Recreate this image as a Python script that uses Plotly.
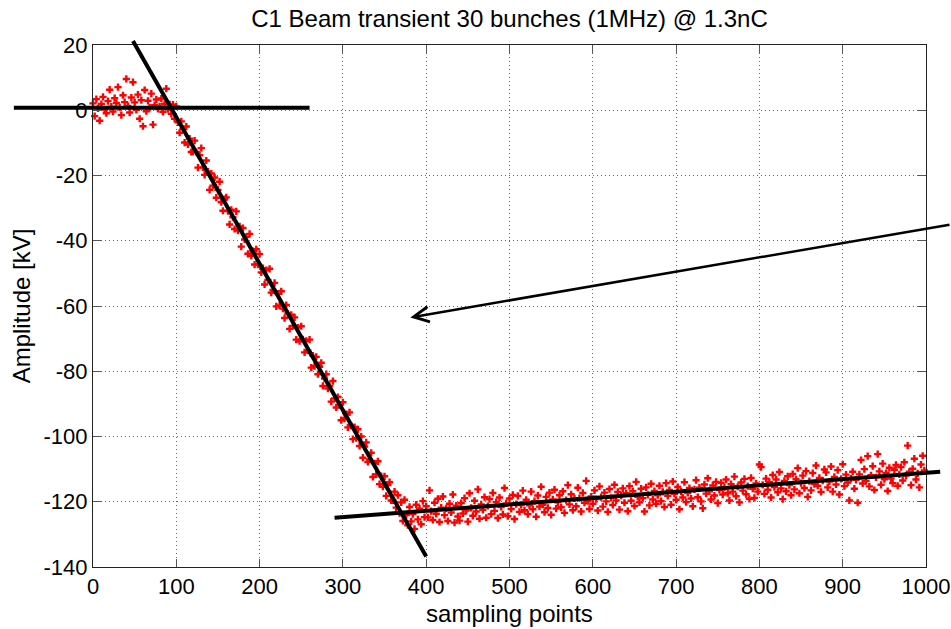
import plotly.graph_objects as go

# ---------------- data ----------------
sample_step = 2
amp_rows = [
    [2.1, -1.8, 3.4, 0.6, -3.2, 1.9, 4.1, 0.2, -0.9, 2.8, 6.3, 1.1, -0.4, 3.7, 2.2, 7.1, 0.9, -1.5, 4.6, 2.5],
    [9.6, 1.3, -0.7, 3.9, 8.6, 2.4, 0.1, 4.8, -2.6, 3.1, -4.9, 6.2, -0.3, 2.9, 0.8, 5.1, -4.4, 1.6, 3.3, 0.4],
    [1.2, 3.6, -0.5, 2.0, 6.6, 0.3, 1.8, -1.1, 1.7, -2.6, 1.2, -3.7, -6.9, -3.4, -5.7, -9.9, -5.0, -10.5, -8.7, -12.8],
    [-12.7, -9.3, -12.8, -17.6, -13.8, -11.6, -17.5, -19.8, -15.4, -18.8, -24.4, -19.4, -23.1, -20.6, -26.8, -24.4, -21.9, -28.2, -30.8, -27.2],
    [-26.7, -30.9, -35.0, -30.5, -32.8, -36.4, -31.0, -36.9, -35.6, -41.8, -36.1, -39.6, -38.8, -44.0, -37.9, -44.6, -43.2, -47.3, -42.6, -47.3],
    [-44.1, -49.7, -48.4, -53.4, -49.0, -52.0, -48.6, -55.9, -55.1, -52.9, -60.1, -56.2, -59.8, -55.5, -60.8, -63.7, -59.7, -62.3, -67.0, -62.7],
    [-66.1, -63.5, -70.3, -66.6, -70.8, -66.2, -70.2, -74.2, -70.7, -73.7, -70.3, -78.9, -75.2, -78.4, -75.6, -80.9, -78.6, -77.4, -84.5, -82.2],
    [-80.9, -85.3, -84.5, -89.3, -83.0, -88.3, -91.1, -87.9, -90.3, -95.0, -89.5, -94.5, -93.1, -97.2, -92.6, -96.7, -100.8, -97.1, -100.5, -97.8],
    [-102.9, -100.0, -106.5, -103.1, -101.8, -107.8, -107.1, -105.0, -112.4, -108.2, -111.6, -107.6, -114.6, -112.1, -115.4, -112.2, -118.2, -114.9, -114.0, -119.6],
    [-119.6, -116.9, -121.8, -118.0, -123.5, -120.2, -125.9, -119.4, -124.1, -127.2, -121.6, -126.0, -123.8, -128.3, -120.9, -125.4, -122.1, -126.9, -119.8, -124.7],
    [-121.4, -124.8, -116.5, -122.9, -125.6, -120.3, -123.7, -119.1, -126.2, -121.8, -118.4, -124.1, -122.0, -125.9, -120.6, -123.3, -117.8, -126.4, -121.2, -124.5],
    [-125.8, -120.4, -123.6, -118.9, -122.7, -126.1, -117.4, -121.9, -124.3, -119.7, -123.0, -116.2, -125.2, -120.8, -122.5, -118.6, -124.9, -121.3, -119.2, -123.8],
    [-117.3, -122.8, -120.1, -125.0, -118.7, -121.6, -123.9, -115.8, -120.5, -124.4, -119.0, -122.2, -117.9, -125.3, -120.7, -118.2, -123.1, -121.0, -116.6, -122.6],
    [-119.4, -123.8, -121.1, -116.9, -122.3, -119.8, -124.6, -118.1, -121.5, -115.4, -120.9, -123.2, -118.5, -121.9, -117.2, -124.0, -119.3, -116.3, -122.1, -120.2],
    [-118.0, -121.7, -116.8, -123.4, -119.5, -114.9, -120.8, -117.7, -122.6, -119.0, -121.4, -115.7, -118.9, -123.0, -117.3, -120.3, -113.6, -119.8, -122.2, -118.4],
    [-120.6, -116.5, -119.2, -122.7, -115.3, -118.6, -121.5, -117.2, -119.9, -123.1, -116.1, -118.8, -121.0, -114.8, -119.6, -117.0, -122.4, -118.1, -115.9, -120.3],
    [-117.4, -122.9, -115.2, -119.7, -116.8, -121.3, -113.9, -118.5, -120.2, -116.0, -118.9, -123.0, -115.6, -117.9, -121.1, -114.5, -119.3, -116.7, -120.6, -118.0],
    [-115.1, -119.8, -117.0, -121.6, -114.3, -118.2, -116.4, -120.9, -113.8, -117.6, -119.4, -115.5, -122.3, -116.9, -118.7, -114.0, -120.1, -117.3, -115.8, -119.0],
    [-121.4, -116.2, -113.4, -118.6, -115.7, -119.9, -122.0, -114.7, -117.5, -112.8, -116.8, -119.3, -115.0, -118.1, -113.9, -120.4, -116.4, -114.2, -117.8, -115.6],
    [-113.2, -117.4, -119.6, -114.6, -116.9, -112.3, -118.3, -115.4, -120.2, -114.1, -116.6, -113.0, -117.7, -115.2, -119.1, -112.7, -116.0, -118.8, -114.4, -116.9],
    [-108.6, -109.4, -114.8, -117.6, -112.9, -116.3, -114.0, -118.7, -111.8, -115.5, -113.2, -117.1, -110.9, -115.9, -119.2, -113.6, -116.8, -112.2, -114.9, -118.0],
    [-111.5, -116.2, -113.1, -109.7, -117.4, -114.3, -112.0, -115.8, -110.6, -118.5, -113.7, -116.5, -111.2, -114.6, -108.9, -115.1, -112.7, -117.0, -113.5, -110.1],
    [-111.0, -115.6, -113.8, -109.2, -116.9, -112.4, -114.7, -110.3, -117.8, -113.0, -108.5, -115.2, -111.7, -114.1, -119.6, -112.9, -110.8, -116.0, -113.3, -120.3],
    [-111.6, -107.2, -114.4, -110.0, -113.6, -106.0, -115.3, -111.9, -109.1, -116.4, -112.5, -105.4, -110.7, -114.8, -108.3, -113.1, -111.2, -116.7, -109.6, -112.9],
    [-114.3, -110.2, -108.7, -115.1, -111.6, -109.4, -113.5, -107.9, -112.0, -102.8, -110.8, -114.9, -109.9, -106.8, -113.2, -111.3, -115.6, -108.6, -105.9, -110.4],
]
amplitude_kv = [v for row in amp_rows for v in row]
sampling_points = list(range(0, sample_step * len(amplitude_kv), sample_step))

# hand-drawn fit lines (data units) and arrow
flat_fit_x = [-95, 260]
flat_fit_y = [0.8, 0.8]
slope_fit_x = [48, 400]
slope_fit_y = [21.2, -136.8]
floor_fit_x = [290, 1017]
floor_fit_y = [-124.9, -110.8]
arrow_head = (381, -63.5)
arrow_tail = (1030, -35.0)

x_range = [0, 1000]
y_range = [-140, 20]
x_ticks = [0, 100, 200, 300, 400, 500, 600, 700, 800, 900, 1000]
x_ticktext = ["0", "100", "200", "300", "400", "500", "600", "700", "800", "900", "1000"]
y_ticks = [-140, -120, -100, -80, -60, -40, -20, 0, 20]
y_ticktext = ["-140", "-120", "-100", "-80", "-60", "-40", "-20", "0", "20"]

title_text = "C1 Beam transient 30 bunches (1MHz) @ 1.3nC"
x_title = "sampling points"
y_title = "Amplitude [kV]"

FONT = "Liberation Sans, Arial, Helvetica, sans-serif"


def to_paper_x(v):
    return (v - x_range[0]) / (x_range[1] - x_range[0])


def to_paper_y(v):
    return (v - y_range[0]) / (y_range[1] - y_range[0])


fig = go.Figure()
fig.add_trace(go.Scatter(
    x=sampling_points, y=amplitude_kv, mode="markers",
    marker=dict(symbol="cross", size=6, color="#ff0000", line=dict(width=0)),
    showlegend=False, hoverinfo="x+y", cliponaxis=False,
))

shapes = []
for xs, ys in [(flat_fit_x, flat_fit_y), (slope_fit_x, slope_fit_y), (floor_fit_x, floor_fit_y)]:
    shapes.append(dict(
        type="line", xref="paper", yref="paper",
        x0=to_paper_x(xs[0]), y0=to_paper_y(ys[0]),
        x1=to_paper_x(xs[1]), y1=to_paper_y(ys[1]),
        line=dict(color="black", width=4), layer="above",
    ))

axis_common = dict(
    showline=True, linecolor="#222222", linewidth=1, mirror="ticks",
    ticks="inside", ticklen=8, tickcolor="#555555", tickwidth=1,
    showgrid=True, gridcolor="#666666", gridwidth=1, griddash="1px,3px",
    zeroline=False, automargin=False,
    tickfont=dict(family=FONT, size=22, color="black"),
)

fig.update_layout(
    width=951, height=629,
    margin=dict(l=93, r=25, t=45, b=62),
    paper_bgcolor="white", plot_bgcolor="white",
    font=dict(family=FONT, color="black"),
    title=dict(text=title_text, x=0.5, xref="paper", xanchor="center",
               y=1 - 19 / 629, yref="container", yanchor="middle",
               font=dict(family=FONT, size=24, color="black"),
               automargin=False),
    xaxis=dict(range=x_range, tickmode="array", tickvals=x_ticks, ticktext=x_ticktext,
               title=dict(text=x_title, font=dict(family=FONT, size=24), standoff=6),
               **axis_common),
    yaxis=dict(range=y_range, tickmode="array", tickvals=y_ticks, ticktext=y_ticktext,
               title=dict(text=y_title, font=dict(family=FONT, size=24), standoff=6),
               **axis_common),
    shapes=shapes,
    annotations=[dict(
        x=arrow_head[0], y=arrow_head[1], xref="x", yref="y",
        ax=arrow_tail[0], ay=arrow_tail[1], axref="x", ayref="y",
        text="", showarrow=True, arrowhead=5, arrowsize=1.2, arrowwidth=2.5,
        arrowcolor="black",
    )],
)

fig.write_html("out.html")
